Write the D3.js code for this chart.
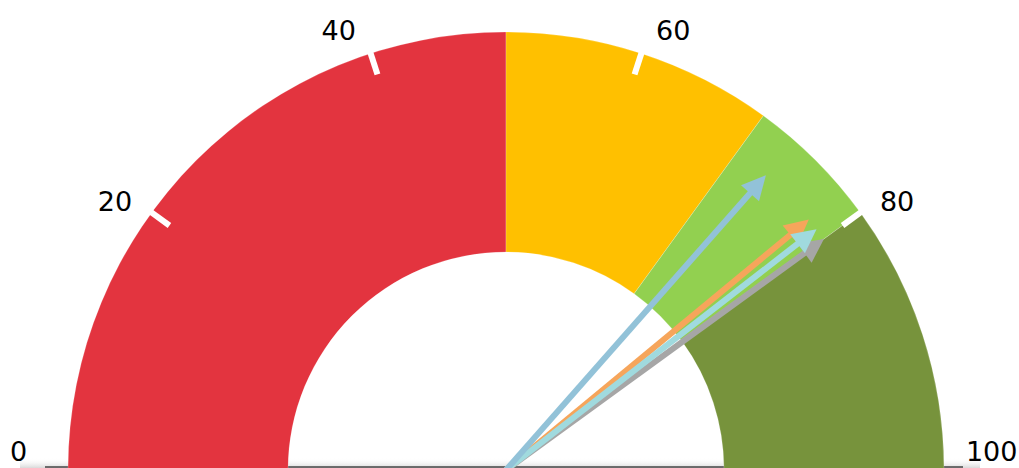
<!DOCTYPE html>
<html>
<head>
<meta charset="utf-8">
<script src="https://cdn.jsdelivr.net/npm/d3@7"></script>
<style>
  body { margin: 0; background: #fff; }
  svg { display: block; }
  .tick-label { font-family: "DejaVu Sans", sans-serif; font-size: 27px; fill: #000; }
</style>
</head>
<body>
<div id="gauge"></div>
<script>
// gauge bands (start, end, colour)
var bandStarts = [0, 50, 70, 80];
var bandEnds = [50, 70, 80, 100];
var bandColors = ['#e3343f', '#ffc000', '#92d050', '#77933c'];

// tick values on the dial
var tickValues = [0, 20, 40, 60, 80, 100];

// needles, drawn in this order
var needleValues = [80, 78, 79, 73];
var needleColors = ['#a6a6a6', '#f6a55b', '#a0dade', '#92c2d8'];

var width = 1019, height = 468;
var cx = 506, cy = 470;
var outerR = 438, innerR = 218;
var needleLen = 393;
var labelR = 455;

var svg = d3.select('#gauge').append('svg')
  .attr('width', width)
  .attr('height', height);

var defs = svg.append('defs');
var grad = defs.append('linearGradient')
  .attr('id', 'shadow')
  .attr('x1', 0).attr('x2', 0).attr('y1', 0).attr('y2', 1);
grad.append('stop').attr('offset', '0%').attr('stop-color', '#fff').attr('stop-opacity', 0);
grad.append('stop').attr('offset', '100%').attr('stop-color', '#cfcfcf').attr('stop-opacity', 0.8);

// value -> angle (d3.arc angles: 0 is up, clockwise)
var angle = d3.scaleLinear().domain([0, 100]).range([-Math.PI / 2, Math.PI / 2]);

var g = svg.append('g').attr('transform', 'translate(' + cx + ',' + cy + ')');

// base shadow + line
g.append('rect')
  .attr('x', 20 - cx).attr('y', -12)
  .attr('width', 960).attr('height', 10)
  .attr('fill', 'url(#shadow)');
g.append('line')
  .attr('x1', 45 - cx).attr('x2', 963 - cx)
  .attr('y1', -3).attr('y2', -3)
  .attr('stroke', '#444').attr('stroke-width', 1.5);

var arc = d3.arc().innerRadius(innerR).outerRadius(outerR);

g.selectAll('path.band').data(bandStarts).enter()
  .append('path')
  .attr('class', 'band')
  .attr('d', function(d, i) {
    return arc({ startAngle: angle(d), endAngle: angle(bandEnds[i]) });
  })
  .attr('fill', function(d, i) { return bandColors[i]; })
  .attr('stroke', '#fff')
  .attr('stroke-opacity', 0.4)
  .attr('stroke-width', 0.5);

// white tick marks on the outer edge
function polar(v, r) {
  var a = angle(v) - Math.PI / 2;
  return [r * Math.cos(a), r * Math.sin(a)];
}

var innerTicks = tickValues.filter(function(v) { return v > 0 && v < 100; });
g.selectAll('line.tick').data(innerTicks).enter()
  .append('line')
  .attr('class', 'tick')
  .attr('x1', function(d) { return polar(d, outerR + 2)[0]; })
  .attr('y1', function(d) { return polar(d, outerR + 2)[1]; })
  .attr('x2', function(d) { return polar(d, outerR - 22)[0]; })
  .attr('y2', function(d) { return polar(d, outerR - 22)[1]; })
  .attr('stroke', '#fff')
  .attr('stroke-width', 6);

// tick labels: the corner nearest the dial sits on labelR,
// nudged a little toward the ends of the dial
function labelPos(d) {
  var shift = d < 50 ? -0.7 : 0.7;
  return polar(d + shift, labelR);
}

g.selectAll('text.tick-label').data(tickValues).enter()
  .append('text')
  .attr('class', 'tick-label')
  .attr('text-anchor', function(d) { return d < 50 ? 'end' : 'start'; })
  .attr('x', function(d) {
    var x = labelPos(d)[0];
    if (d === 0) x -= 24;
    if (d === 100) x += 5;
    return x;
  })
  .attr('y', function(d) { return Math.min(labelPos(d)[1], -9); })
  .text(function(d) { return d; });

// needles
var needles = g.selectAll('g.needle').data(needleValues).enter()
  .append('g')
  .attr('class', 'needle')
  .attr('transform', function(d) {
    return 'rotate(' + (angle(d) * 180 / Math.PI - 90) + ')';
  });

needles.append('line')
  .attr('x1', 0).attr('y1', 0)
  .attr('x2', needleLen - 18).attr('y2', 0)
  .attr('stroke', function(d, i) { return needleColors[i]; })
  .attr('stroke-width', 6);

needles.append('path')
  .attr('d', function() {
    return 'M' + needleLen + ',0 L' + (needleLen - 24) + ',-12 L' + (needleLen - 24) + ',12 Z';
  })
  .attr('fill', function(d, i) { return needleColors[i]; });
</script>
</body>
</html>
